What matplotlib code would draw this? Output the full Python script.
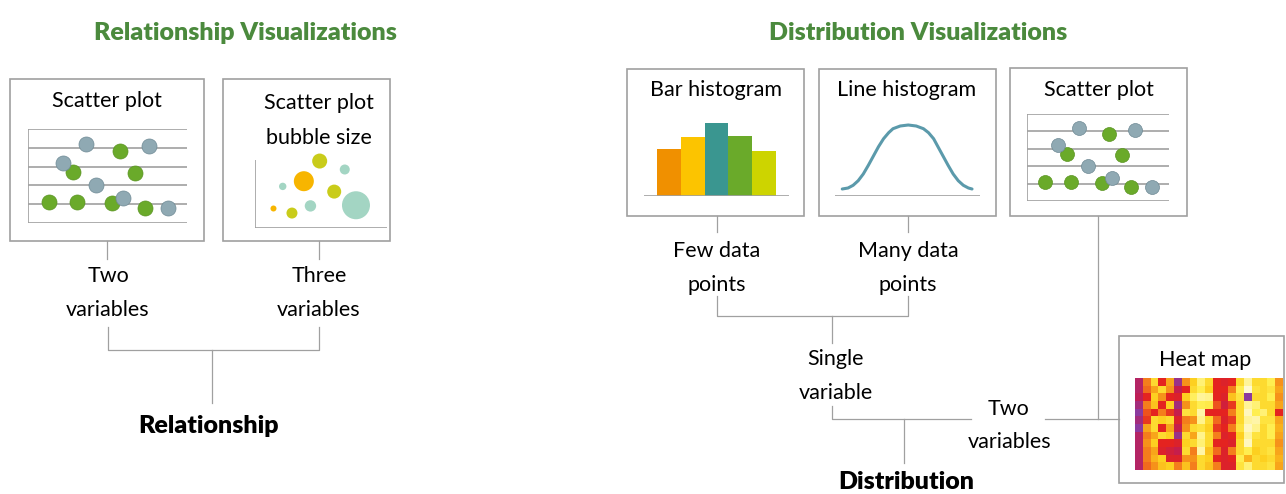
import numpy as np
import matplotlib
matplotlib.use("Agg")
import matplotlib.pyplot as plt
from matplotlib.patches import Rectangle
from matplotlib.colors import LinearSegmentedColormap

# ========================
# ДАННЫЕ
# ========================
section_titles = ["Relationship Visualizations", "Distribution Visualizations"]

# точечная диаграмма (одинаковая в двух местах)
blue_x = [3.65, 7.6, 2.2, 4.3, 6.0, 8.8]
blue_y = [4.2, 4.1, 3.2, 2.0, 1.33, 0.8]
green_x = [5.8, 2.8, 6.7, 1.3, 3.1, 5.3, 7.35]
green_y = [3.83, 2.7, 2.66, 1.1, 1.1, 1.06, 0.8]

# пузырьковая диаграмма
bub_x = [4.9, 6.8, 3.7, 2.1, 6.0, 1.4, 2.8, 4.2, 7.65]
bub_y = [5.15, 4.5, 3.6, 3.2, 2.8, 1.5, 1.15, 1.7, 1.75]
bub_r = [7.5, 5, 10, 3.7, 7, 3, 5.5, 5.7, 14]
bub_c = ["#c9cc1a", "#a3d5c3", "#f7b500", "#a3d5c3", "#c9cc1a",
         "#f7b500", "#c9cc1a", "#a3d5c3", "#a3d5c3"]

# гистограмма столбцами
bar_h = [47, 59, 73, 60, 45]
bar_c = ["#f09000", "#fcc400", "#3a9690", "#6aaa2a", "#cdd400"]

# гистограмма линией
line_x = [0.5, 0.9, 1.25, 1.6, 1.95, 2.3, 2.65, 3.0, 3.35, 3.7, 4.0, 4.5, 5.05,
          5.6, 6.1, 6.45, 6.8, 7.1, 7.45, 7.8, 8.15, 8.5, 8.85, 9.2, 9.45]
line_h = [7, 8, 10.7, 15.3, 22, 30.7, 40, 49.3, 57.3, 63.3, 67.3, 70, 71,
          70, 67.3, 63.3, 57.3, 49.3, 40, 30.7, 22, 15.3, 10.7, 8, 7]

# тепловая карта (столбцы слева направо, в каждом строки сверху вниз)
heat_cols = [
    [0.92, 0.92, 0.9, 0.95, 1.0, 0.95, 1.0, 0.92, 0.92, 0.92, 0.92, 0.92],
    [0.6, 0.65, 0.8, 0.6, 0.7, 0.75, 0.5, 0.6, 0.55, 0.6, 0.6, 0.65],
    [0.3, 0.5, 0.35, 0.4, 0.8, 0.3, 0.3, 0.5, 0.35, 0.5, 0.45, 0.55],
    [0.8, 0.3, 0.55, 0.8, 0.6, 0.35, 0.8, 0.3, 0.8, 0.82, 0.35, 0.4],
    [0.5, 0.55, 0.8, 0.35, 0.75, 0.3, 0.5, 0.35, 0.8, 0.85, 0.82, 0.35],
    [0.97, 0.88, 0.82, 0.95, 0.88, 0.82, 0.88, 0.97, 0.82, 0.88, 0.82, 0.6],
    [0.55, 0.8, 0.35, 0.55, 0.25, 0.6, 0.55, 0.3, 0.35, 0.3, 0.55, 0.4],
    [0.35, 0.3, 0.18, 0.3, 0.3, 0.55, 0.3, 0.5, 0.3, 0.6, 0.55, 0.6],
    [0.15, 0.2, 0.1, 0.2, 0.08, 0.12, 0.25, 0.12, 0.15, 0.08, 0.3, 0.3],
    [0.3, 0.35, 0.12, 0.22, 0.8, 0.3, 0.35, 0.3, 0.3, 0.4, 0.35, 0.4],
    [0.8, 0.8, 0.8, 0.7, 0.8, 0.65, 0.75, 0.6, 0.8, 0.65, 0.8, 0.6],
    [0.82, 0.8, 0.82, 0.85, 0.8, 0.82, 0.8, 0.82, 0.8, 0.82, 0.82, 0.82],
    [0.8, 0.6, 0.4, 0.75, 0.6, 0.75, 0.6, 0.8, 0.82, 0.6, 0.8, 0.82],
    [0.3, 0.2, 0.25, 0.3, 0.3, 0.3, 0.25, 0.35, 0.3, 0.3, 0.2, 0.25],
    [0.1, 0.02, 1.0, 0.1, 0.05, 0.1, 0.05, 0.1, 0.05, 0.2, 0.45, 0.15],
    [0.3, 0.25, 0.3, 0.15, 0.2, 0.08, 0.12, 0.25, 0.3, 0.35, 0.3, 0.3],
    [0.3, 0.3, 0.3, 0.3, 0.15, 0.25, 0.3, 0.3, 0.3, 0.3, 0.35, 0.3],
    [0.2, 0.25, 0.2, 0.3, 0.3, 0.25, 0.2, 0.2, 0.3, 0.25, 0.3, 0.25],
    [0.55, 0.5, 0.55, 0.5, 0.8, 0.5, 0.45, 0.5, 0.55, 0.5, 0.45, 0.5],
]

# ========================
# СТИЛЬ
# ========================
plt.rcParams["font.family"] = ["Lato", "DejaVu Sans"]
GREEN = "#4b8a3d"
GRAY = "#a0a0a0"
FS = 15.5        # обычные подписи
FS_TITLE = 18    # заголовки разделов
FS_ROOT = 18     # корни деревьев

W, H = 1286, 494
fig = plt.figure(figsize=(W / 100, H / 100), dpi=100)
ax = fig.add_axes([0, 0, 1, 1])
ax.set_xlim(0, W)
ax.set_ylim(H, 0)
ax.axis("off")


def inset(x0, x1, y0, y1):
    a = fig.add_axes([x0 / W, 1 - y1 / H, (x1 - x0) / W, (y1 - y0) / H])
    a.axis("off")
    return a


def box(x0, y0, x1, y1):
    ax.add_patch(Rectangle((x0, y0), x1 - x0, y1 - y0, fill=False,
                           ec=GRAY, lw=1.2))


def lines(*pts):
    xs, ys = zip(*pts)
    ax.plot(xs, ys, color=GRAY, lw=0.9)


def txt(x, y, s, bold=False, size=FS, color="black"):
    ax.text(x, y, s, ha="center", va="baseline", fontsize=size,
            fontweight="heavy" if bold else "normal", color=color)


def scatter_panel(a, size):
    a.set_xlim(0, 10)
    a.set_ylim(0, 5)
    a.hlines(range(6), 0, 10, color=GRAY, lw=1.2)
    a.vlines(0, 0, 5, color=GRAY, lw=1.2)
    a.scatter(green_x, green_y, s=size, color="#6aaa2a", ec="#5a9422",
              lw=0.5, zorder=3, clip_on=False)
    a.scatter(blue_x, blue_y, s=size, color="#8fa9b3", ec="#6f8a95",
              lw=0.5, zorder=4, clip_on=False)


# ========================
# ЗАГОЛОВКИ
# ========================
txt(245, 40, section_titles[0], bold=True, size=FS_TITLE, color=GREEN)
txt(918, 40, section_titles[1], bold=True, size=FS_TITLE, color=GREEN)

# ========================
# ЛЕВАЯ ЧАСТЬ: Relationship
# ========================
box(10, 79, 204, 241)
txt(107, 107, "Scatter plot")
scatter_panel(inset(28, 187, 129, 223), 117)

box(223, 79, 390, 241)
txt(319, 109, "Scatter plot")
txt(319, 144, "bubble size")
b = inset(255, 387, 150, 228)
b.set_xlim(0, 10)
b.set_ylim(0, 6)
b.vlines(0, 0, 5.2, color=GRAY, lw=1.2)
b.hlines(0, 0, 10, color=GRAY, lw=1.2)
b.scatter(bub_x, bub_y, s=[(2 * r * 0.72) ** 2 for r in bub_r], color=bub_c,
          lw=0, clip_on=False)

lines((107, 241), (107, 259))
lines((319, 241), (319, 259))
txt(108, 282, "Two")
txt(108, 316, "variables")
txt(319, 282, "Three")
txt(319, 316, "variables")
lines((108, 327), (108, 350), (319, 350), (319, 327))
lines((212, 350), (212, 403))
txt(209, 433, "Relationship", bold=True, size=FS_ROOT)

# ========================
# ПРАВАЯ ЧАСТЬ: Distribution
# ========================
box(627, 69, 804, 216)
txt(716, 96, "Bar histogram")
h = inset(644, 789, 116, 196)
h.set_xlim(-1.05, 5.05)
h.set_ylim(0, 80)
h.bar(range(len(bar_h)), bar_h, width=1.0, color=bar_c)
h.hlines(0, -1.05, 5.05, color=GRAY, lw=1.2)

box(819, 69, 996, 216)
txt(907, 96, "Line histogram")
l = inset(835, 980, 116, 196)
l.set_xlim(0, 10)
l.set_ylim(0, 80)
l.plot(line_x, line_h, color="#5b9aab", lw=2.2, solid_capstyle="round")
l.hlines(0, 0, 10, color=GRAY, lw=1.2)

box(1010, 68, 1187, 216)
txt(1099, 96, "Scatter plot")
scatter_panel(inset(1027, 1169, 114, 201), 101)

box(1119, 336, 1284, 483)
txt(1205, 366, "Heat map")
cmap = LinearSegmentedColormap.from_list("heat", [
    (0.0, "#fffbe2"), (0.2, "#ffee50"), (0.35, "#fdd020"), (0.5, "#f9a61a"),
    (0.65, "#f26b1d"), (0.8, "#e42320"), (0.9, "#c01e55"), (1.0, "#8b3a9e")])
hm = inset(1135, 1283, 378, 470)
hm.imshow(np.array(heat_cols).T, cmap=cmap, vmin=0, vmax=1, aspect="auto",
          interpolation="nearest")

# ветви дерева
lines((717, 216), (717, 232))
lines((908, 216), (908, 232))
txt(717, 257, "Few data")
txt(717, 291, "points")
txt(908, 257, "Many data")
txt(908, 291, "points")
lines((717, 296), (717, 316), (908, 316), (908, 296))
lines((832, 316), (832, 343))
txt(836, 365, "Single")
txt(836, 399, "variable")
lines((832, 406), (832, 419), (971, 419))
lines((1045, 419), (1119, 419))
lines((1098, 216), (1098, 419))
txt(1009, 415, "Two")
txt(1010, 448, "variables")
lines((904, 419), (904, 463))
txt(906, 489, "Distribution", bold=True, size=FS_ROOT)

fig.savefig("out.png", dpi=100)
